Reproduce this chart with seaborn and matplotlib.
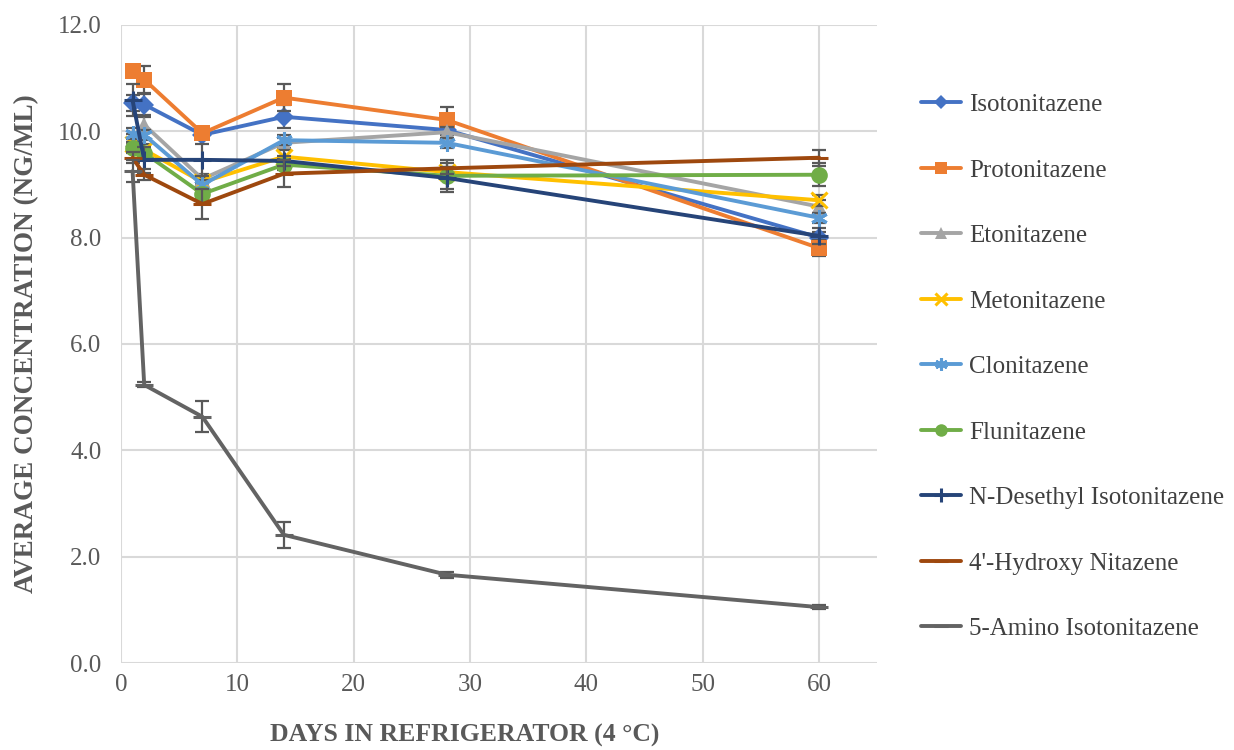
import numpy as np
import pandas as pd
import matplotlib
matplotlib.use("Agg")
import matplotlib.pyplot as plt
import seaborn as sns

# ---- data ----
days = [1, 2, 7, 14, 28, 60]

compounds = ["Isotonitazene", "Protonitazene", "Etonitazene", "Metonitazene",
             "Clonitazene", "Flunitazene", "N-Desethyl Isotonitazene",
             "4'-Hydroxy Nitazene", "5-Amino Isotonitazene"]

isotonitazene = [10.52, 10.50, 9.93, 10.27, 10.02, 8.00]
protonitazene = [11.13, 10.97, 9.96, 10.63, 10.21, 7.80]
etonitazene = [9.85, 10.12, 9.10, 9.78, 9.98, 8.58]
metonitazene = [9.75, 9.65, 9.04, 9.52, 9.23, 8.70]
clonitazene = [9.95, 9.93, 8.99, 9.83, 9.78, 8.37]
flunitazene = [9.69, 9.59, 8.82, 9.37, 9.16, 9.18]
n_desethyl = [10.58, 9.46, 9.46, 9.44, 9.12, 8.03]
hydroxy = [9.50, 9.18, 8.63, 9.20, 9.30, 9.50]
amino = [9.25, 5.23, 4.63, 2.41, 1.66, 1.05]

isotonitazene_sd = [0.15, 0.20, 0.08, 0.22, 0.10, 0.10]
protonitazene_sd = [0.10, 0.25, 0.05, 0.25, 0.25, 0.15]
etonitazene_sd = [0.10, 0.15, 0.10, 0.10, 0.10, 0.12]
metonitazene_sd = [0.10, 0.10, 0.10, 0.12, 0.10, 0.10]
clonitazene_sd = [0.10, 0.10, 0.10, 0.10, 0.10, 0.10]
flunitazene_sd = [0.10, 0.10, 0.10, 0.10, 0.30, 0.22]
n_desethyl_sd = [0.30, 0.25, 0.30, 0.10, 0.20, 0.15]
hydroxy_sd = [0.10, 0.10, 0.28, 0.25, 0.10, 0.15]
amino_sd = [0.20, 0.05, 0.29, 0.25, 0.06, 0.04]

values = [isotonitazene, protonitazene, etonitazene, metonitazene, clonitazene,
          flunitazene, n_desethyl, hydroxy, amino]
errors = [isotonitazene_sd, protonitazene_sd, etonitazene_sd, metonitazene_sd,
          clonitazene_sd, flunitazene_sd, n_desethyl_sd, hydroxy_sd, amino_sd]

colors = ["#4472C4", "#ED7D31", "#A5A5A5", "#FFC000", "#5B9BD5",
          "#70AD47", "#264478", "#9E480E", "#636363"]
markers = ["D", "s", "^", "x", (6, 2, 0), "o", "+", "_", "_"]
msizes = [10, 12, 11, 11, 12, 12, 13, 13, 13]

# ---- plot ----
sns.set_style("whitegrid", {"grid.color": "#D9D9D9"})
plt.rcParams["font.family"] = ["Liberation Serif", "DejaVu Serif"]

fig = plt.figure(figsize=(12.34, 7.5), dpi=100)
ax = fig.add_axes([0.098, 0.116, 0.613, 0.851])

for i, name in enumerate(compounds):
    df = pd.DataFrame({"day": days, "conc": values[i]})
    ax.errorbar(days, values[i], yerr=errors[i], fmt="none", ecolor="#595959",
                elinewidth=1.6, capsize=5, capthick=1.6, zorder=2 + i * 0.1)
    line_marker = markers[i] in ["x", "+", "_"] or isinstance(markers[i], tuple)
    sns.lineplot(data=df, x="day", y="conc", ax=ax, color=colors[i],
                 marker=markers[i], markersize=msizes[i], linewidth=2.8,
                 markeredgewidth=2.2 if line_marker else 0,
                 markeredgecolor=colors[i], label=name, zorder=2.05 + i * 0.1)

ax.set_xlim(0, 65)
ax.set_ylim(0, 12)
ax.set_xticks(range(0, 61, 10))
ax.set_yticks(np.arange(0, 12.1, 2))
ax.set_yticklabels([f"{v:.1f}" for v in np.arange(0, 12.1, 2)])
ax.tick_params(axis="both", length=0, labelsize=18, labelcolor="#595959")
ax.tick_params(axis="y", pad=14)
ax.tick_params(axis="x", pad=8)
ax.grid(True, color="#D9D9D9", linewidth=1.5)
for s in ax.spines.values():
    s.set_visible(False)

ax.set_xlabel("DAYS IN REFRIGERATOR (4 °C)", fontsize=18.5, fontweight="bold",
              color="#595959", labelpad=22)
ax.xaxis.set_label_coords(0.455, -0.095, transform=ax.transAxes)
ax.xaxis.label.set_verticalalignment("top")
ax.set_ylabel("AVERAGE CONCENTRATION (NG/ML)", fontsize=19.5, fontweight="bold",
              color="#595959", labelpad=12)
ax.yaxis.set_label_coords(-0.108, 0.5, transform=ax.transAxes)

leg = ax.legend(loc="upper left", bbox_to_anchor=(1.058, 0.892), frameon=False,
                fontsize=18, labelspacing=1.72, handlelength=1.6, handletextpad=0.3,
                borderaxespad=0, borderpad=0, markerscale=0.75)
for t in leg.get_texts():
    t.set_color("#404040")

fig.savefig("out.png", dpi=100)
